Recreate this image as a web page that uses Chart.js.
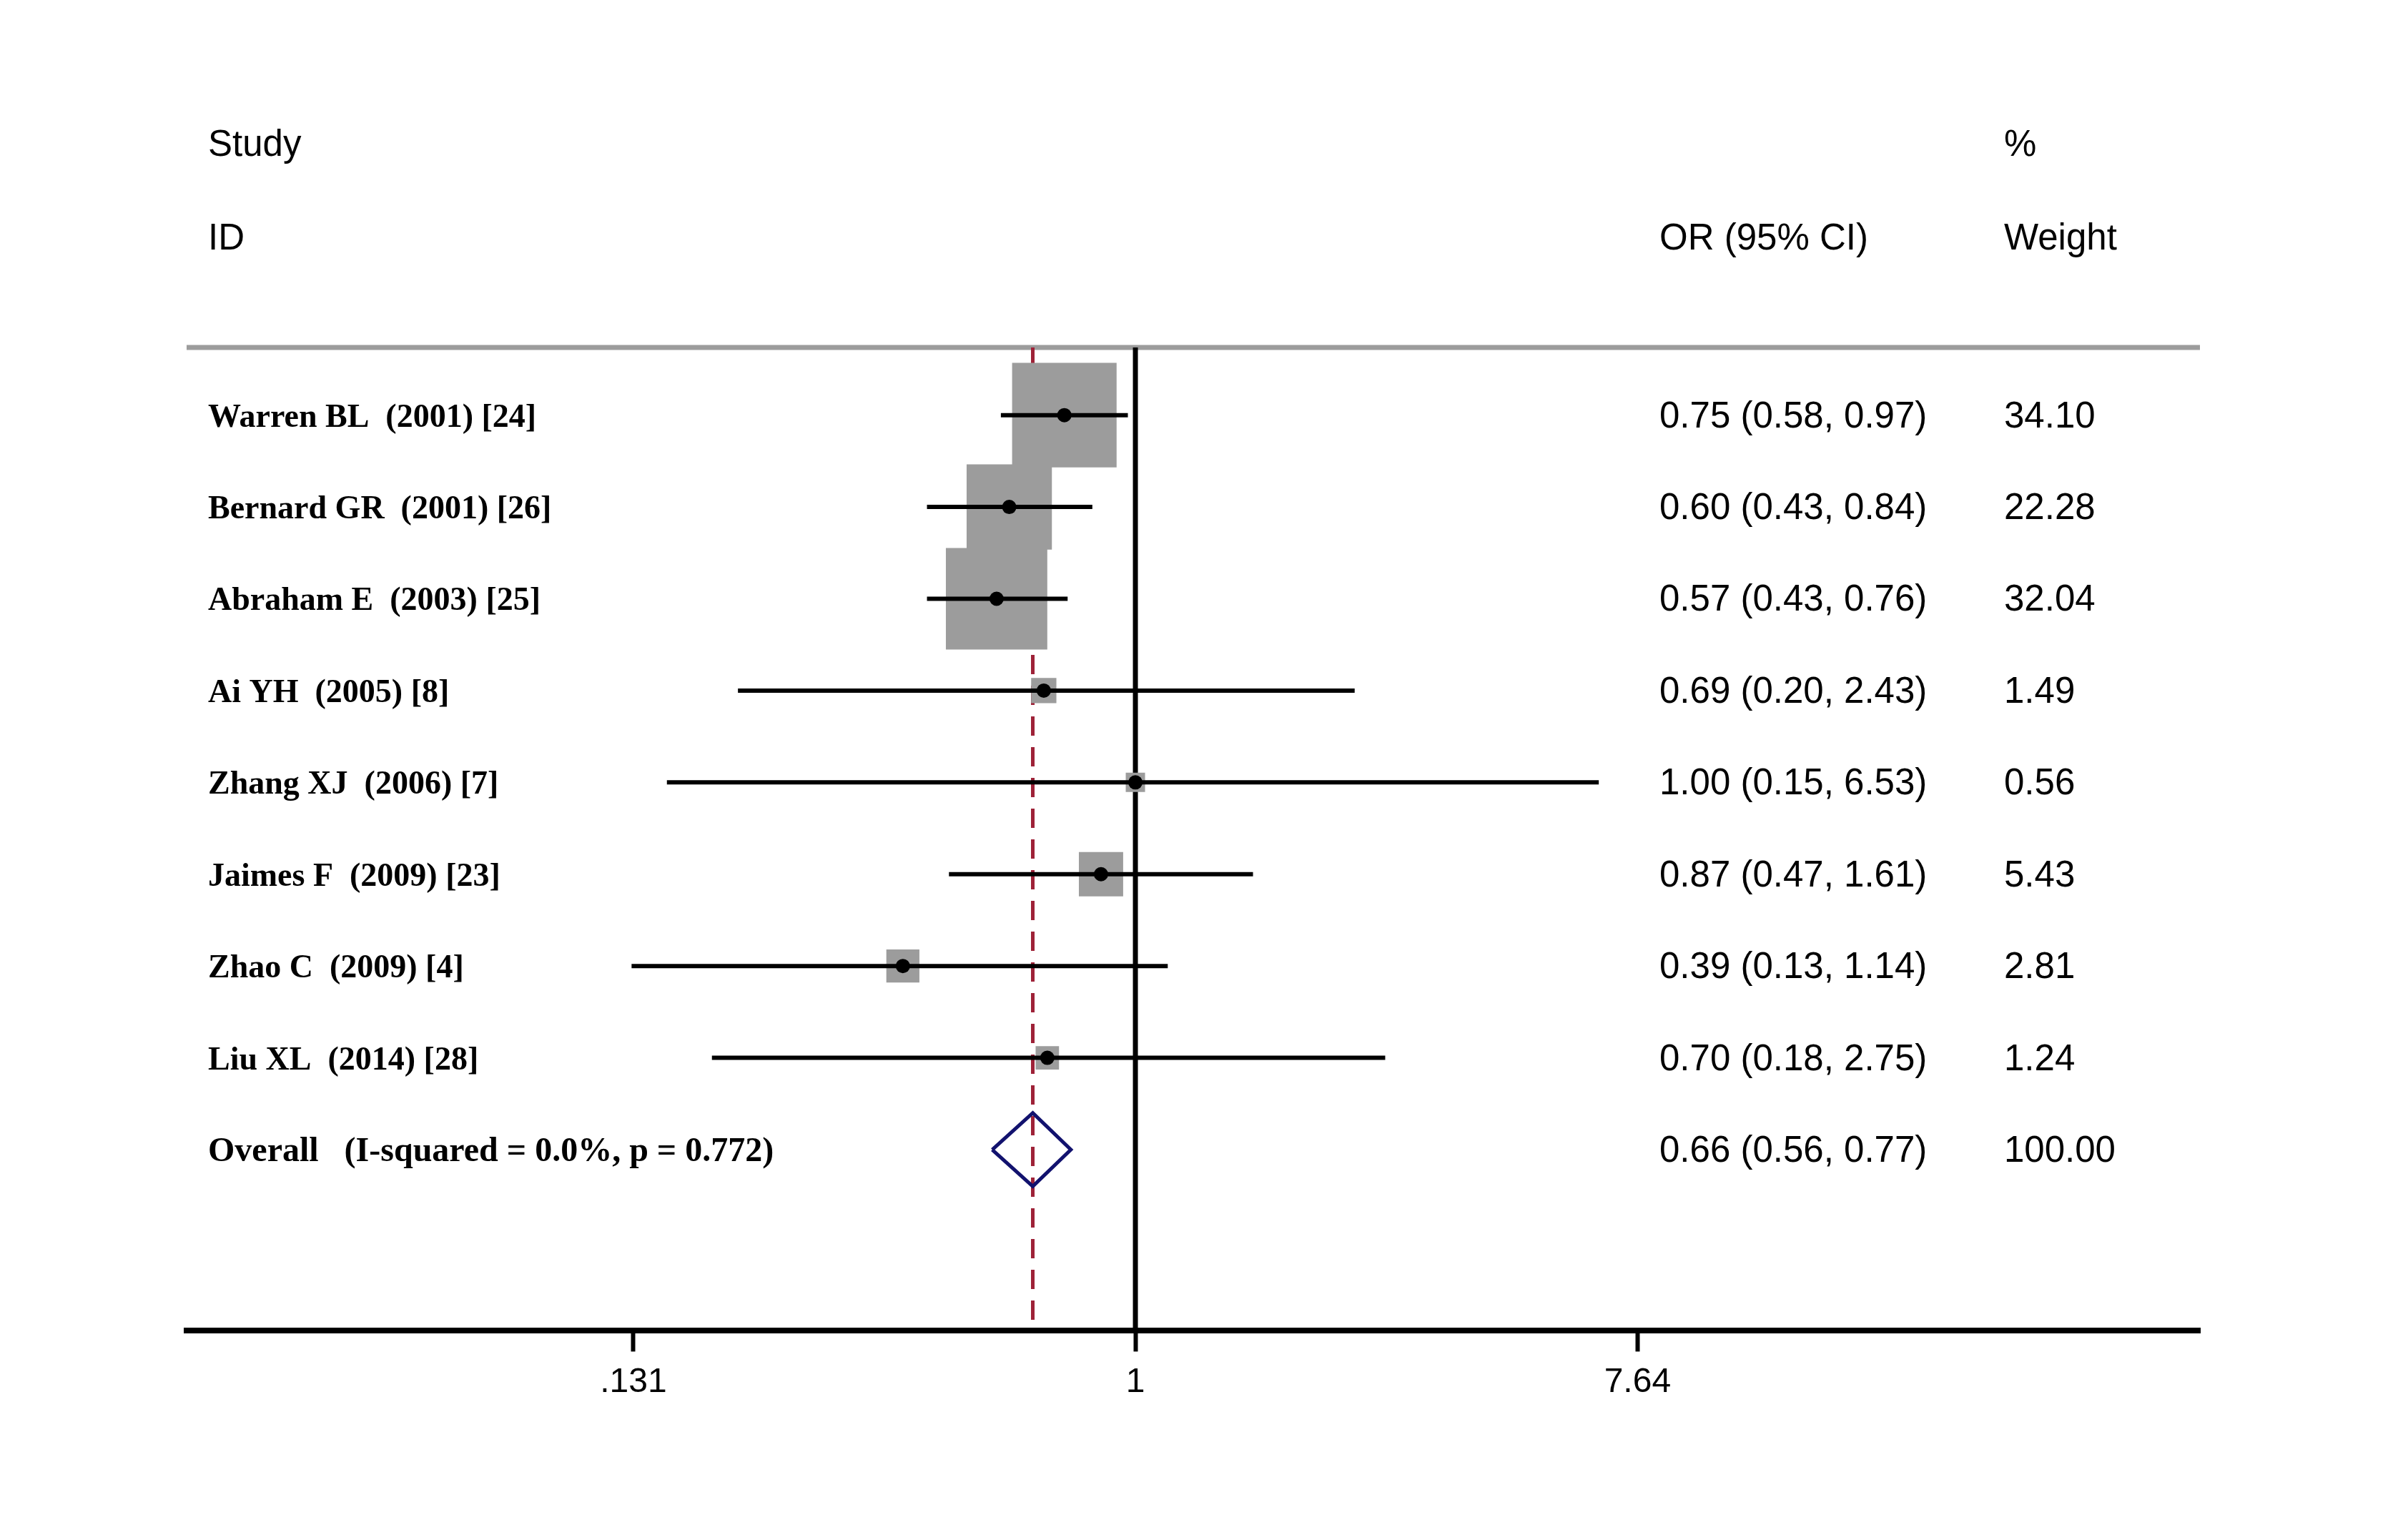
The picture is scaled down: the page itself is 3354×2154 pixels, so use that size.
<!DOCTYPE html>
<html>
<head>
<meta charset="utf-8">
<script src="https://cdn.jsdelivr.net/npm/chart.js@4.4.1/dist/chart.umd.min.js"></script>
<style>
  html, body { margin: 0; padding: 0; background: #fff; }
  #wrap { width: 3354px; height: 2154px; position: relative; }
</style>
</head>
<body>
<div id="wrap"><canvas id="forest"></canvas></div>
<script>
const studies = [
  'Warren BL  (2001) [24]',
  'Bernard GR  (2001) [26]',
  'Abraham E  (2003) [25]',
  'Ai YH  (2005) [8]',
  'Zhang XJ  (2006) [7]',
  'Jaimes F  (2009) [23]',
  'Zhao C  (2009) [4]',
  'Liu XL  (2014) [28]'
];
const oddsRatio = [0.75, 0.60, 0.57, 0.69, 1.00, 0.87, 0.39, 0.70];
const ciLow = [0.58, 0.43, 0.43, 0.20, 0.15, 0.47, 0.13, 0.18];
const ciHigh = [0.97, 0.84, 0.76, 2.43, 6.53, 1.61, 1.14, 2.75];
const weights = [34.10, 22.28, 32.04, 1.49, 0.56, 5.43, 2.81, 1.24];

const overallLabel = 'Overall   (I-squared = 0.0%, p = 0.772)';
const overallOR = 0.66;
const overallLow = 0.56;
const overallHigh = 0.77;
const overallWeight = 100.00;

const tickValues = [0.131, 1, 7.64];
const tickLabels = ['.131', '1', '7.64'];

// axis extents (log x, row index on y)
const xMin = 0.02145, xMax = 74.5;
const yMin = -0.737, yMax = 9.973;
const overallRow = studies.length;

const SERIF = '"Liberation Serif", "Times New Roman", serif';
const SANS = '"Liberation Sans", Arial, sans-serif';

const fmt = (v) => v.toFixed(2);
const boxRadius = (w) => Math.max(27, 24 * Math.sqrt(w) + 6) / Math.SQRT2;

const ciSets = studies.map((s, i) => ({
  label: s + ' CI',
  data: [{ x: ciLow[i], y: i }, { x: ciHigh[i], y: i }],
  showLine: true,
  borderColor: '#000',
  borderWidth: 6,
  pointRadius: 0,
  order: 7,
}));

const textPlugin = {
  id: 'forestText',
  beforeDatasetsDraw(chart) {
    const { ctx, chartArea } = chart;
    ctx.save();
    ctx.strokeStyle = '#9c9c9c';
    ctx.lineWidth = 7;
    ctx.beginPath();
    ctx.moveTo(chartArea.left, chartArea.top);
    ctx.lineTo(chartArea.right, chartArea.top);
    ctx.stroke();
    ctx.restore();
  },
  afterDraw(chart) {
    const { ctx } = chart;
    const y = chart.scales.y;
    const colStudy = 291, colOR = 2321, colW = 2803;
    ctx.save();
    ctx.fillStyle = '#000';
    ctx.textAlign = 'left';
    ctx.textBaseline = 'alphabetic';

    ctx.font = '51px ' + SANS;
    const h1 = y.getPixelForValue(-2.96) + 17;
    const h2 = y.getPixelForValue(-1.94) + 17;
    ctx.fillText('Study', colStudy, h1);
    ctx.fillText('ID', colStudy, h2);
    ctx.fillText('OR (95% CI)', colOR, h2);
    ctx.fillText('%', colW, h1);
    ctx.fillText('Weight', colW, h2);

    studies.forEach((s, i) => {
      const py = y.getPixelForValue(i);
      ctx.font = 'bold 46px ' + SERIF;
      ctx.fillText(s, colStudy, py + 16);
      ctx.font = '51px ' + SANS;
      ctx.fillText(`${fmt(oddsRatio[i])} (${fmt(ciLow[i])}, ${fmt(ciHigh[i])})`, colOR, py + 17);
      ctx.fillText(fmt(weights[i]), colW, py + 17);
    });

    const po = y.getPixelForValue(overallRow);
    ctx.font = 'bold 48px ' + SERIF;
    ctx.fillText(overallLabel, colStudy, po + 16);
    ctx.font = '51px ' + SANS;
    ctx.fillText(`${fmt(overallOR)} (${fmt(overallLow)}, ${fmt(overallHigh)})`, colOR, po + 17);
    ctx.fillText(fmt(overallWeight), colW, po + 17);
    ctx.restore();
  }
};

new Chart(document.getElementById('forest'), {
  type: 'scatter',
  data: {
    datasets: [
      {
        label: 'Overall line',
        data: [{ x: overallOR, y: yMin }, { x: overallOR, y: yMax }],
        showLine: true,
        borderColor: '#9e2238',
        borderWidth: 5,
        borderDash: [27, 16],
        pointRadius: 0,
        order: 10,
      },
      {
        label: 'No effect',
        data: [{ x: 1, y: yMin }, { x: 1, y: yMax }],
        showLine: true,
        borderColor: '#000',
        borderWidth: 7,
        pointRadius: 0,
        order: 9,
      },
      {
        label: 'Weight boxes',
        data: oddsRatio.map((v, i) => ({ x: v, y: i })),
        pointStyle: 'rect',
        pointRadius: weights.map(boxRadius),
        pointHoverRadius: weights.map(boxRadius),
        backgroundColor: '#9c9c9c',
        borderWidth: 0,
        order: 8,
      },
      ...ciSets,
      {
        label: 'Estimates',
        data: oddsRatio.map((v, i) => ({ x: v, y: i })),
        pointStyle: 'circle',
        pointRadius: 10,
        pointHoverRadius: 10,
        backgroundColor: '#000',
        borderWidth: 0,
        order: 6,
      },
      {
        label: 'Overall',
        data: [
          { x: overallLow, y: overallRow },
          { x: overallOR, y: overallRow - 0.4 },
          { x: overallHigh, y: overallRow },
          { x: overallOR, y: overallRow + 0.4 },
          { x: overallLow, y: overallRow },
        ],
        showLine: true,
        borderColor: '#12126e',
        borderWidth: 5,
        borderJoinStyle: 'miter',
        pointRadius: 0,
        order: 5,
      },
    ],
  },
  options: {
    responsive: true,
    maintainAspectRatio: false,
    devicePixelRatio: 1,
    animation: false,
    events: [],
    layout: { padding: { left: 261, right: 277, top: 486, bottom: 176 } },
    plugins: { legend: { display: false }, tooltip: { enabled: false } },
    scales: {
      x: {
        type: 'logarithmic',
        min: xMin,
        max: xMax,
        afterBuildTicks: (axis) => { axis.ticks = tickValues.map((v) => ({ value: v })); },
        ticks: {
          autoSkip: false,
          maxRotation: 0,
          padding: 15,
          color: '#000',
          font: { family: SANS, size: 48 },
          callback: (v, i) => tickLabels[i],
        },
        grid: {
          display: true,
          drawOnChartArea: false,
          drawTicks: true,
          tickLength: 29,
          tickWidth: 6,
          tickColor: '#000',
        },
        border: { display: true, color: '#000', width: 8 },
      },
      y: {
        type: 'linear',
        reverse: true,
        min: yMin,
        max: yMax,
        display: false,
      },
    },
  },
  plugins: [textPlugin],
});
</script>
</body>
</html>
